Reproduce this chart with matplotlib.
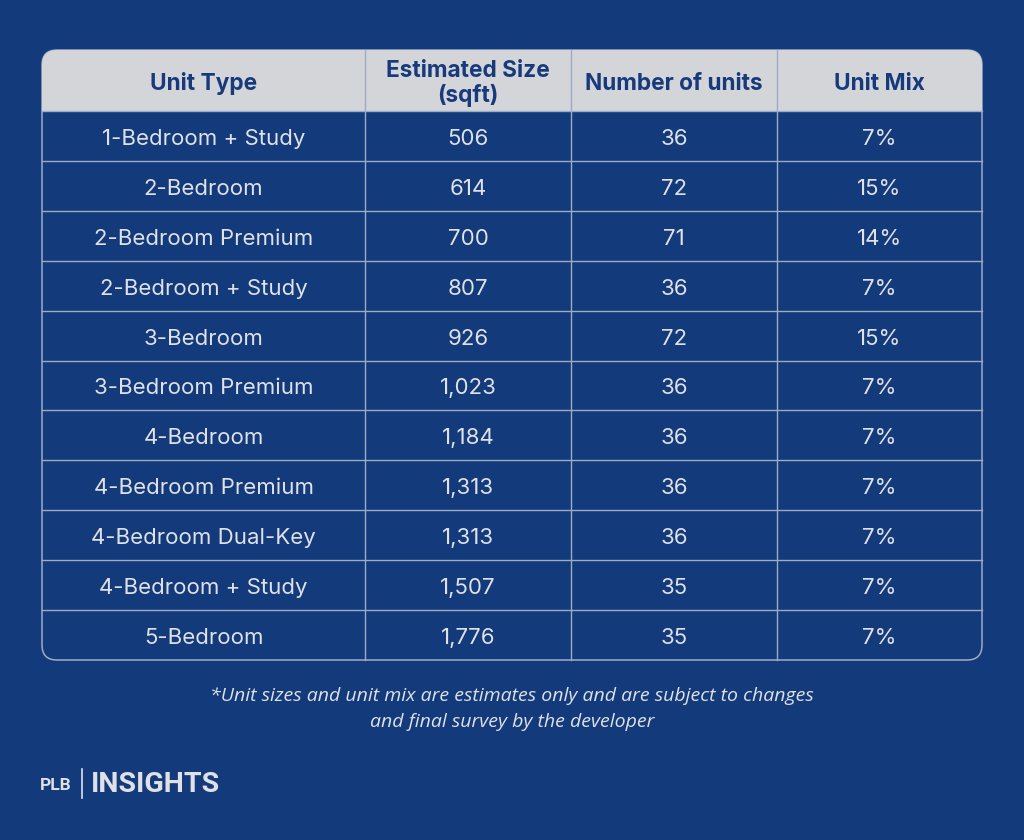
import matplotlib.pyplot as plt
from matplotlib.patches import FancyBboxPatch, Rectangle

# table content
headers = ["Unit Type", "Estimated Size\n(sqft)", "Number of units", "Unit Mix"]
unit_types = ["1-Bedroom + Study", "2-Bedroom", "2-Bedroom Premium", "2-Bedroom + Study",
              "3-Bedroom", "3-Bedroom Premium", "4-Bedroom", "4-Bedroom Premium",
              "4-Bedroom Dual-Key", "4-Bedroom + Study", "5-Bedroom"]
sizes = ["506", "614", "700", "807", "926", "1,023", "1,184", "1,313", "1,313", "1,507", "1,776"]
units = [36, 72, 71, 36, 72, 36, 36, 36, 36, 35, 35]
mix = ["7%", "15%", "14%", "7%", "15%", "7%", "7%", "7%", "7%", "7%", "7%"]
footnote = ("*Unit sizes and unit mix are estimates only and are subject to changes\n"
            "and final survey by the developer")

bg = "#133a7a"
header_bg = "#d3d5d9"
header_fg = "#163a7b"
body_fg = "#dfe1e6"
line_c = "#9eabc7"

W, H = 1024, 840
fig = plt.figure(figsize=(W / 100, H / 100), dpi=100, facecolor=bg)
ax = fig.add_axes([0, 0, 1, 1])
ax.set_xlim(0, W)
ax.set_ylim(H, 0)
ax.axis("off")

# table geometry (pixels)
left, right = 42, 982
top, head_bot, bottom = 50, 111, 660
col_edges = [left, 365, 571, 777, right]
row_h = (bottom - head_bot) / len(unit_types)
r = 15

# outer border with rounded corners
ax.add_patch(FancyBboxPatch((left, top), right - left, bottom - top,
                            boxstyle=f"round,pad=0,rounding_size={r}",
                            facecolor=bg, edgecolor=line_c, linewidth=1.1, zorder=1))
# header: rounded top, square bottom
ax.add_patch(FancyBboxPatch((left, top), right - left, head_bot - top,
                            boxstyle=f"round,pad=0,rounding_size={r}",
                            facecolor=header_bg, edgecolor="none", zorder=2))
ax.add_patch(Rectangle((left, top + r + 5), right - left, head_bot - top - r - 5,
                       facecolor=header_bg, edgecolor="none", zorder=2))

# grid lines
for i in range(1, len(unit_types)):
    y = head_bot + i * row_h
    ax.plot([left, right], [y, y], color=line_c, lw=1.0, zorder=3)
ax.plot([left, right], [head_bot, head_bot], color=line_c, lw=1.0, zorder=3)
for x in col_edges[1:-1]:
    ax.plot([x, x], [top, bottom], color=line_c, lw=1.0, zorder=3)

centers = [(col_edges[i] + col_edges[i + 1]) / 2 for i in range(4)]

for cx, h in zip(centers, headers):
    ax.text(cx, (top + head_bot) / 2 + 3, h, ha="center", va="center",
            fontsize=16.3, fontweight="bold", color=header_fg, family="Inter",
            linespacing=1.12, zorder=4)

for i in range(len(unit_types)):
    cy = head_bot + (i + 0.5) * row_h + 3
    row = [unit_types[i], sizes[i], str(units[i]), mix[i]]
    for cx, val in zip(centers, row):
        ax.text(cx, cy, val, ha="center", va="center", fontsize=16,
                color=body_fg, family="Inter", zorder=4)

ax.text(512, 709, footnote, ha="center", va="center", fontsize=14,
        style="italic", color=body_fg, family="Open Sans", linespacing=1.55)

# logo
ax.text(40, 785, "PLB", ha="left", va="center", fontsize=12.5, fontweight="bold",
        color=body_fg, family="Roboto")
ax.plot([82, 82], [769, 798], color=body_fg, lw=1.2)
ax.text(91, 784, "INSIGHTS", ha="left", va="center", fontsize=20.5, fontweight="bold",
        color=body_fg, family="Roboto")

fig.savefig("out.png", dpi=100, facecolor=bg)
